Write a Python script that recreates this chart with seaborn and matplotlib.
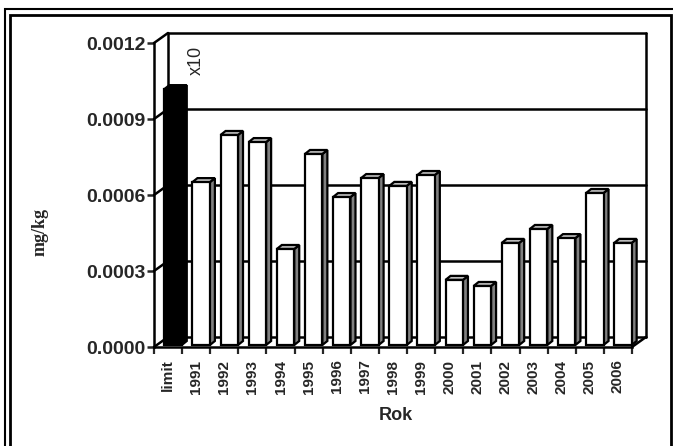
import numpy as np
import pandas as pd
import matplotlib
matplotlib.use("Agg")
import matplotlib.pyplot as plt
import matplotlib.transforms as mtransforms
from matplotlib.patches import Polygon, Rectangle
from matplotlib.lines import Line2D
import seaborn as sns

# data
categories = ["limit", "1991", "1992", "1993", "1994", "1995", "1996", "1997", "1998",
              "1999", "2000", "2001", "2002", "2003", "2004", "2005", "2006"]
values = [0.00101, 0.000643, 0.000829, 0.000801, 0.000379, 0.000754, 0.000584, 0.000659,
          0.000628, 0.000671, 0.000257, 0.000233, 0.000403, 0.000458, 0.000422, 0.000600,
          0.000403]
y_ticks = [0.0, 0.0003, 0.0006, 0.0009, 0.0012]
y_tick_labels = ["0.0000", "0.0003", "0.0006", "0.0009", "0.0012"]
x_label = "Rok"
y_label = "mg/kg"
limit_note = "x10"

sns.set_style("white")
plt.rcParams["font.family"] = ["Liberation Sans", "DejaVu Sans"]

W, H = 673, 446
fig = plt.figure(figsize=(W / 100, H / 100), dpi=100)
ax = fig.add_axes([154 / W, 1 - 347 / H, 478 / W, 304 / H])

df = pd.DataFrame({"cat": categories, "val": values})
palette = ["black"] + ["white"] * (len(categories) - 1)
sns.barplot(data=df, x="cat", y="val", hue="cat", palette=palette, legend=False,
            width=0.62, edgecolor="black", linewidth=1.6, saturation=1, ax=ax, zorder=5)

ax.set_xlim(-0.5, len(categories) - 0.5)
ax.set_ylim(0, 0.0012)

# pseudo 3D offsets (pixels)
wall_dx, wall_dy = 14, 10
bar_dx, bar_dy = 5, 2
dep_dx, dep_dy = 5, 4

back = mtransforms.offset_copy(ax.transData, fig=fig, x=wall_dx, y=wall_dy, units="dots")
bar_front = mtransforms.offset_copy(ax.transData, fig=fig, x=bar_dx, y=bar_dy, units="dots")
ident = mtransforms.IdentityTransform()

x0, x1 = ax.get_xlim()
wall_kw = dict(color="black", lw=1.8, zorder=1, clip_on=False)
# back wall: frame and gridlines
ax.plot([x0, x0], [0, 0.0012], transform=back, **wall_kw)
ax.plot([x1, x1], [0, 0.0012], transform=back, **wall_kw)
for yv in y_ticks:
    ax.plot([x0, x1], [yv, yv], transform=back, **wall_kw)
    # side wall diagonals
    p0 = ax.transData.transform((x0, yv))
    p1 = back.transform((x0, yv))
    ax.add_line(Line2D([p0[0], p1[0]], [p0[1], p1[1]], transform=ident, **wall_kw))
# floor right diagonal
p0 = ax.transData.transform((x1, 0))
p1 = back.transform((x1, 0))
ax.add_line(Line2D([p0[0], p1[0]], [p0[1], p1[1]], transform=ident, **wall_kw))

# bars: move front face into the box and add top / side faces
for i, p in enumerate(ax.patches):
    p.set_transform(bar_front)
    p.set_clip_on(False)
    bx, by, bw, bh = p.get_x(), p.get_y(), p.get_width(), p.get_height()
    black_bar = i == 0
    bl = bar_front.transform((bx, by))
    br = bar_front.transform((bx + bw, by))
    tl = bar_front.transform((bx, by + bh))
    tr = bar_front.transform((bx + bw, by + bh))
    d = np.array([dep_dx, dep_dy])
    side = Polygon([br, tr, tr + d, br + d], closed=True, transform=ident,
                   facecolor="black" if black_bar else "#808080", edgecolor="black",
                   lw=1.6, zorder=4, clip_on=False)
    top = Polygon([tl, tr, tr + d, tl + d], closed=True, transform=ident,
                  facecolor="black" if black_bar else "#c0c0c0", edgecolor="black",
                  lw=1.6, zorder=4, clip_on=False)
    ax.add_patch(side)
    ax.add_patch(top)

# axes styling
for s in ["top", "right"]:
    ax.spines[s].set_visible(False)
for s in ["left", "bottom"]:
    ax.spines[s].set_color("black")
    ax.spines[s].set_linewidth(1.8)
    ax.spines[s].set_zorder(6)
ax.set_facecolor("none")

ax.set_yticks(y_ticks)
ax.set_yticklabels(y_tick_labels, fontsize=14, fontweight="bold")
ax.tick_params(axis="y", direction="out", length=5, width=1.8, pad=1, left=True)

ax.set_xticks(range(len(categories)))
ax.set_xticklabels(categories, rotation=90, fontsize=11, fontweight="bold")
ax.set_xticks(np.arange(-0.5, len(categories), 1), minor=True)
ax.tick_params(axis="x", which="major", length=0, pad=9)
ax.tick_params(axis="x", which="minor", direction="out", length=5, width=1.6, bottom=True)
ax.set_xlabel("")
ax.set_ylabel("")

ax.text(1, 0.00113, limit_note, rotation=90, ha="center", va="center", fontsize=13)

fig.text(396 / W, 1 - 416 / H, x_label, ha="center", va="center", fontsize=13,
         fontweight="bold")
fig.text(40 / W, 1 - 232 / H, y_label, ha="center", va="center", fontsize=13,
         fontweight="bold", rotation=90, family=["Liberation Serif", "DejaVu Serif"])

# double frame around the chart
fig.patches.append(Rectangle((5 / W, -0.1), 671 / W, 1 - 9 / H + 0.1, transform=fig.transFigure,
                             fill=False, edgecolor="black", lw=1.5, zorder=0))
fig.patches.append(Rectangle((10 / W, -0.1), 661 / W, 1 - 15 / H + 0.1, transform=fig.transFigure,
                             fill=False, edgecolor="black", lw=2, zorder=0))

fig.savefig("out.png", dpi=100)
